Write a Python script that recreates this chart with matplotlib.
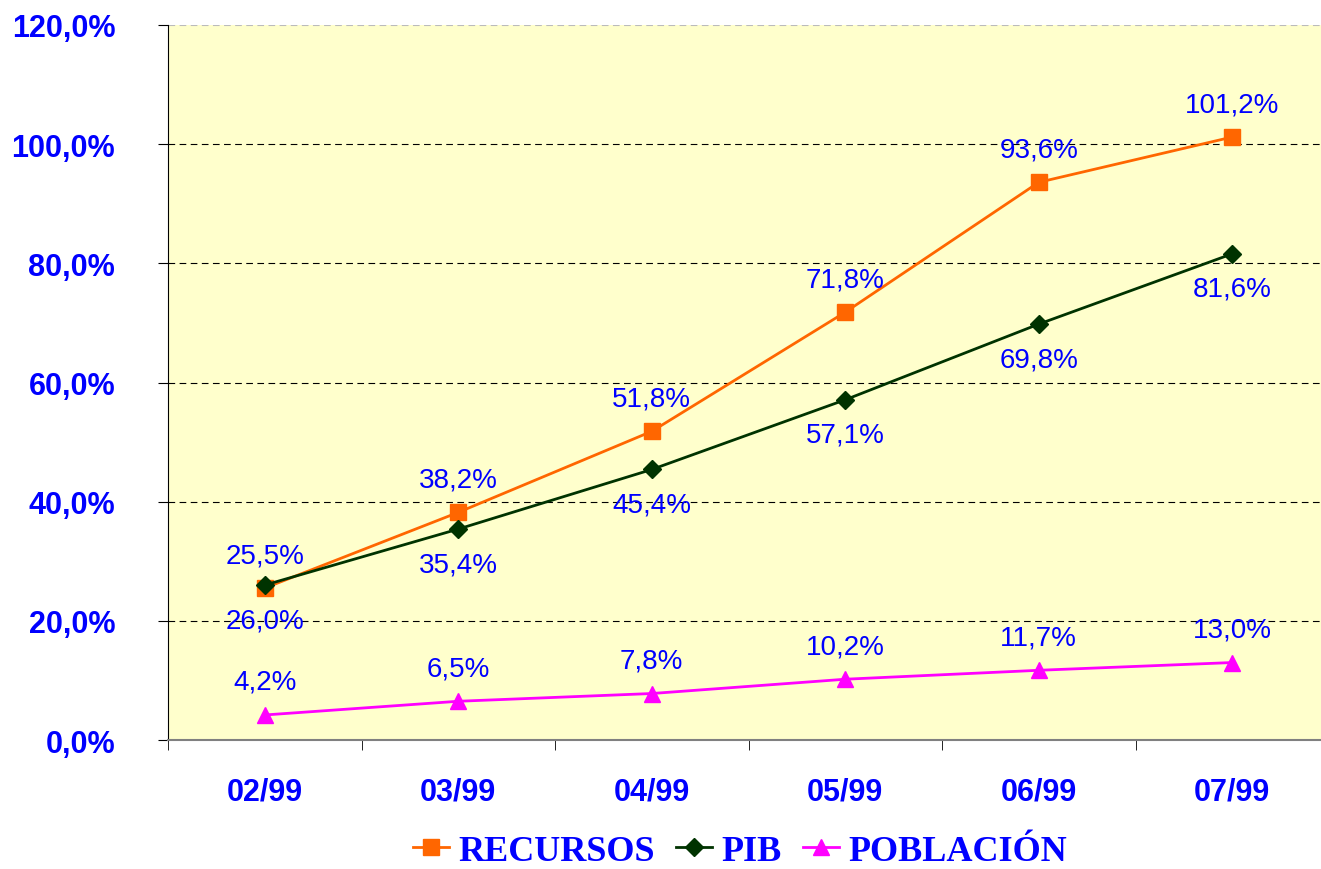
import matplotlib.pyplot as plt
import numpy as np

plt.rcParams['font.family'] = ['Liberation Sans', 'DejaVu Sans']

# datos del gráfico
meses = ['02/99', '03/99', '04/99', '05/99', '06/99', '07/99']
recursos = [25.5, 38.2, 51.8, 71.8, 93.6, 101.2]
pib = [26.0, 35.4, 45.4, 57.1, 69.8, 81.6]
poblacion = [4.2, 6.5, 7.8, 10.2, 11.7, 13.0]
y_ticks = [0, 20, 40, 60, 80, 100, 120]

azul = '#0000FF'

fig = plt.figure(figsize=(13.21, 8.70), dpi=100)
ax = fig.add_axes([168 / 1321, 1 - 741 / 870, 1161 / 1321, 715 / 870])
ax.set_facecolor('#FFFFCC')

x = np.arange(len(meses))

ax.plot(x, recursos, color='#FF6600', lw=2, marker='s', ms=11, label='RECURSOS', zorder=3)
ax.plot(x, pib, color='#003300', lw=2, marker='D', ms=9, label='PIB', zorder=4)
ax.plot(x, poblacion, color='#FF00FF', lw=2, marker='^', ms=12, label='POBLACIÓN', zorder=3)

def fmt(v):
    return f'{v:.1f}%'.replace('.', ',')

# etiquetas: recursos y población arriba, pib abajo
for xi, v in zip(x, recursos):
    ax.annotate(fmt(v), (xi, v), xytext=(0, 33), textcoords='offset pixels',
                ha='center', va='center', fontsize=20, color=azul)
for xi, v in zip(x, pib):
    ax.annotate(fmt(v), (xi, v), xytext=(0, -35), textcoords='offset pixels',
                ha='center', va='center', fontsize=20, color=azul)
for xi, v in zip(x, poblacion):
    ax.annotate(fmt(v), (xi, v), xytext=(0, 33), textcoords='offset pixels',
                ha='center', va='center', fontsize=20, color=azul)

# rejilla punteada
for yv in y_ticks[1:-1]:
    ax.axhline(yv, color='black', lw=0.8, ls=(0, (6, 4)), zorder=1)
ax.axhline(120, color='#BBBBBB', lw=0.8, ls=(0, (6, 4)), zorder=1)

ax.set_xlim(-0.5, len(meses) - 0.5)
ax.set_ylim(0, 120)
ax.set_yticks(y_ticks)
ax.set_yticklabels([fmt(v) for v in y_ticks], fontsize=22, fontweight='bold', color=azul)
ax.set_xticks(x)
ax.set_xticklabels(meses, fontsize=22, fontweight='bold', color=azul)
ax.set_xticks(np.arange(-0.5, len(meses)), minor=True)
ax.tick_params(axis='x', which='major', length=0, pad=26)
ax.tick_params(axis='x', which='minor', length=7, color='black')
ax.tick_params(axis='y', length=7, color='black', pad=31)

for s in ['top', 'right']:
    ax.spines[s].set_visible(False)
ax.spines['left'].set_color('black')
ax.spines['bottom'].set_color('#808080')
ax.spines['bottom'].set_linewidth(1.5)

leg = fig.legend(loc='center', bbox_to_anchor=(740 / 1321, 1 - 852 / 870), ncol=3, frameon=False,
                 prop={'family': 'Liberation Serif', 'weight': 'bold', 'size': 26},
                 handlelength=1.0, handletextpad=0.25, columnspacing=0.6)
for t in leg.get_texts():
    t.set_color(azul)

fig.savefig('out.png', dpi=100)
